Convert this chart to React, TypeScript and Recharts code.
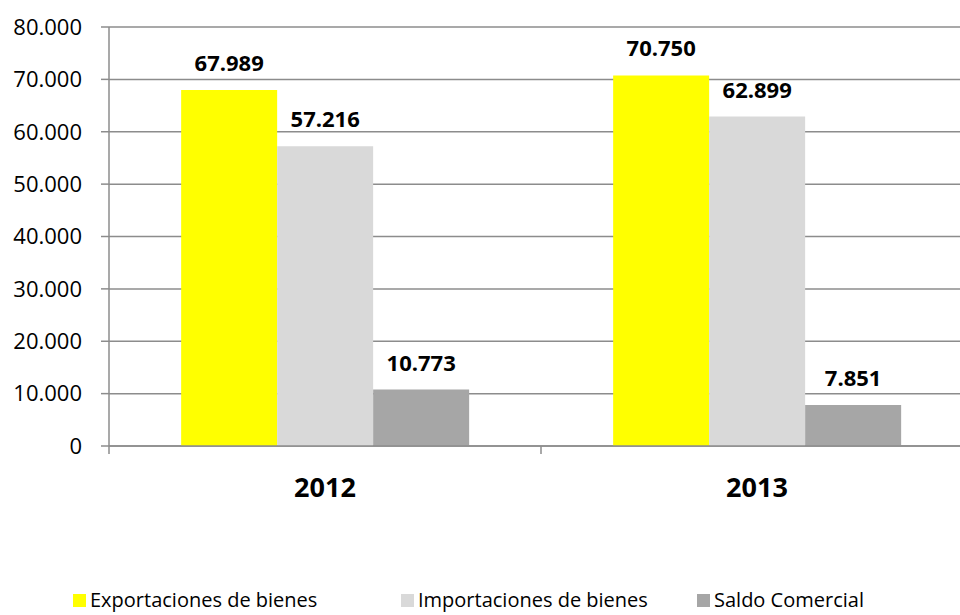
import { Bar, BarChart, CartesianGrid, LabelList, XAxis, YAxis } from "recharts"

const years = ["2012", "2013"]
const exportaciones = [67989, 70750]
const importaciones = [57216, 62899]
const saldo = [10773, 7851]
const yTicks = [0, 10000, 20000, 30000, 40000, 50000, 60000, 70000, 80000]

const series = [
  { key: "exportaciones", name: "Exportaciones de bienes", color: "#FFFF00" },
  { key: "importaciones", name: "Importaciones de bienes", color: "#D9D9D9" },
  { key: "saldo", name: "Saldo Comercial", color: "#A6A6A6" },
]
const legendLeft = [73, 401, 697]

const data = years.map((year, i) => ({
  year,
  exportaciones: exportaciones[i],
  importaciones: importaciones[i],
  saldo: saldo[i],
}))

const CHART_W = 973
const Y_AXIS_W = 109
const HALF_BAND = (CHART_W - Y_AXIS_W) / years.length / 2
const FONT = "'Open Sans', sans-serif"
const GRID = "#8C8C8C"

const fmt = (v: number) => String(v).replace(/\B(?=(\d{3})+(?!\d))/g, ".")

function YearTick(props: any) {
  const { x, y, payload, index } = props
  return (
    <g>
      <line x1={x + HALF_BAND} x2={x + HALF_BAND} y1={y} y2={y + 8} stroke={GRID} strokeWidth={1.5} />
      {index === 0 && (
        <line x1={x - HALF_BAND} x2={x - HALF_BAND} y1={y} y2={y + 8} stroke={GRID} strokeWidth={1.5} />
      )}
      <text x={x} y={y + 51} textAnchor="middle" fontSize={27} fontWeight="bold" fill="#000" fontFamily={FONT}>
        {payload.value}
      </text>
    </g>
  )
}

export default function App() {
  return (
    <div style={{ position: "absolute", left: 0, top: 0, width: 960, height: 615, overflow: "hidden", background: "#fff", fontFamily: FONT }}>
      <BarChart
        width={CHART_W}
        height={615}
        data={data}
        margin={{ top: 27, right: 0, bottom: 0, left: 0 }}
        barCategoryGap="16.7%"
        barGap={0}
      >
        <CartesianGrid vertical={false} stroke={GRID} strokeWidth={1.5} />
        <XAxis
          dataKey="year"
          height={169}
          tickLine={false}
          tickSize={0}
          tickMargin={0}
          axisLine={{ stroke: GRID, strokeWidth: 1.5 }}
          tick={<YearTick />}
        />
        <YAxis
          width={Y_AXIS_W}
          domain={[0, 80000]}
          ticks={yTicks}
          interval={0}
          tickFormatter={fmt}
          tickSize={8}
          tickMargin={19}
          tickLine={{ stroke: GRID, strokeWidth: 1.5 }}
          axisLine={{ stroke: GRID, strokeWidth: 1.5 }}
          tick={{ fill: "#000", fontSize: 22, fontFamily: FONT }}
        />
        {series.map((s) => (
          <Bar key={s.key} dataKey={s.key} name={s.name} fill={s.color} isAnimationActive={false}>
            <LabelList
              dataKey={s.key}
              position="top"
              offset={19}
              formatter={(v: any) => fmt(Number(v))}
              style={{ fontSize: 22, fontWeight: "bold", fill: "#000", fontFamily: FONT }}
            />
          </Bar>
        ))}
      </BarChart>
      {series.map((s, i) => (
        <div
          key={s.key}
          style={{ position: "absolute", left: legendLeft[i], top: 587, display: "flex", alignItems: "center", fontSize: 20, color: "#000" }}
        >
          <span style={{ display: "inline-block", width: 13, height: 13, background: s.color, marginRight: 4 }} />
          <span style={{ lineHeight: "26px" }}>{s.name}</span>
        </div>
      ))}
    </div>
  )
}
